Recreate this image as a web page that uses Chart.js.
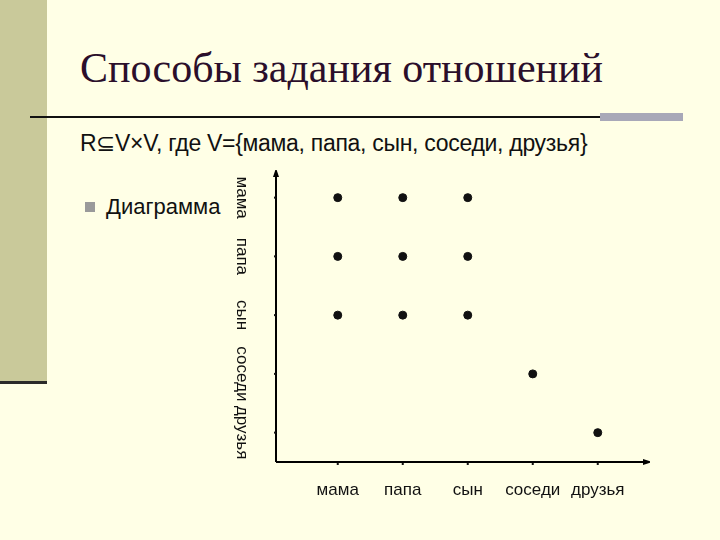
<!DOCTYPE html><html><head><meta charset="utf-8">
<script src="https://cdn.jsdelivr.net/npm/chart.js@4"></script>
<style>
body{margin:0;width:720px;height:540px;background:#ffffe6;position:relative;overflow:hidden;font-family:"Liberation Sans",Arial,sans-serif}
.side{position:absolute;left:0;top:0;width:47px;height:382px;background:#c9c99a}
.sideline{position:absolute;left:0;top:381px;width:47px;height:3px;background:#2a2a2a}
.title{position:absolute;left:80px;top:44px;font-family:'Liberation Serif','DejaVu Serif',serif;font-size:42px;color:#2b0f2b;white-space:nowrap}
.rule{position:absolute;left:30px;top:116px;width:570px;height:2px;background:#111}
.grey{position:absolute;left:600px;top:113px;width:83px;height:8px;background:#a8a8b8}
.sub{position:absolute;left:80px;top:130px;font-size:23px;color:#111;white-space:nowrap;letter-spacing:-0.3px}
.bul{position:absolute;left:85px;top:202px;width:10px;height:10px;background:#9a9a9a}
.dia{position:absolute;left:106px;top:194px;font-size:22px;color:#111}
#wrap{position:absolute;left:230px;top:170px;width:420px;height:340px}
</style></head><body>
<div class="side"></div><div class="sideline"></div>
<div class="title">Способы задания отношений</div>
<div class="rule"></div><div class="grey"></div>
<div class="sub">R⊆V×V, где V={мама, папа, сын, соседи, друзья}</div>
<div class="bul"></div><div class="dia">Диаграмма</div>
<div id="wrap"><canvas id="c" width="420" height="340"></canvas></div>
<script>
const people = ['мама','папа','сын','соседи','друзья'];
const pairsFrom = ['мама','папа','сын','мама','папа','сын','мама','папа','сын','соседи','друзья'];
const pairsTo   = ['мама','мама','мама','папа','папа','папа','сын','сын','сын','соседи','друзья'];
const data = pairsFrom.map((f,i)=>({x:people.indexOf(f), y:4-people.indexOf(pairsTo[i])}));
const decor = {id:'decor',afterDraw(ch){
  const c=ch.ctx,xs=ch.scales.x,ys=ch.scales.y,a=ch.chartArea;
  c.save();c.strokeStyle='#000';c.fillStyle='#000';c.lineWidth=2;
  c.beginPath();c.moveTo(a.left,a.bottom);c.lineTo(a.right+6,a.bottom);c.moveTo(a.left,a.bottom);c.lineTo(a.left,a.top-6);c.stroke();
  c.beginPath();c.moveTo(a.right+12,a.bottom);c.lineTo(a.right+3,a.bottom-3);c.lineTo(a.right+3,a.bottom+3);c.fill();
  c.beginPath();c.moveTo(a.left,a.top-12);c.lineTo(a.left-3,a.top-3);c.lineTo(a.left+3,a.top-3);c.fill();
  c.font='17px "Liberation Sans", Arial';c.fillStyle='#111';c.textAlign='center';c.textBaseline='middle';
  people.forEach((p,i)=>{const y=ys.getPixelForValue(4-i);
    c.save();c.translate(12,y);c.rotate(Math.PI/2);c.fillText(p,0,0);c.restore();
    c.fillRect(a.left-2,y-1,2,2);
    const x=xs.getPixelForValue(i);c.fillRect(x-1,a.bottom+1,2,2);
    c.fillText(p,x,a.bottom+28);});
  c.restore();}};
new Chart(document.getElementById('c'),{type:'scatter',
 data:{datasets:[{data,backgroundColor:'#111',borderColor:'#111',pointRadius:4,pointHoverRadius:4}]},
 options:{responsive:false,animation:false,events:[],layout:{padding:{top:10,right:10}},
  plugins:{legend:{display:false},tooltip:{enabled:false}},
  scales:{x:{type:'linear',min:-0.95,max:4.65,grid:{display:false},border:{display:false},ticks:{display:false},afterFit(s){s.height=48}},
   y:{type:'linear',min:-0.5,max:4.3,grid:{display:false},border:{display:false},ticks:{display:false},afterFit(s){s.width=46}}}},
 plugins:[decor]});
</script></body></html>
